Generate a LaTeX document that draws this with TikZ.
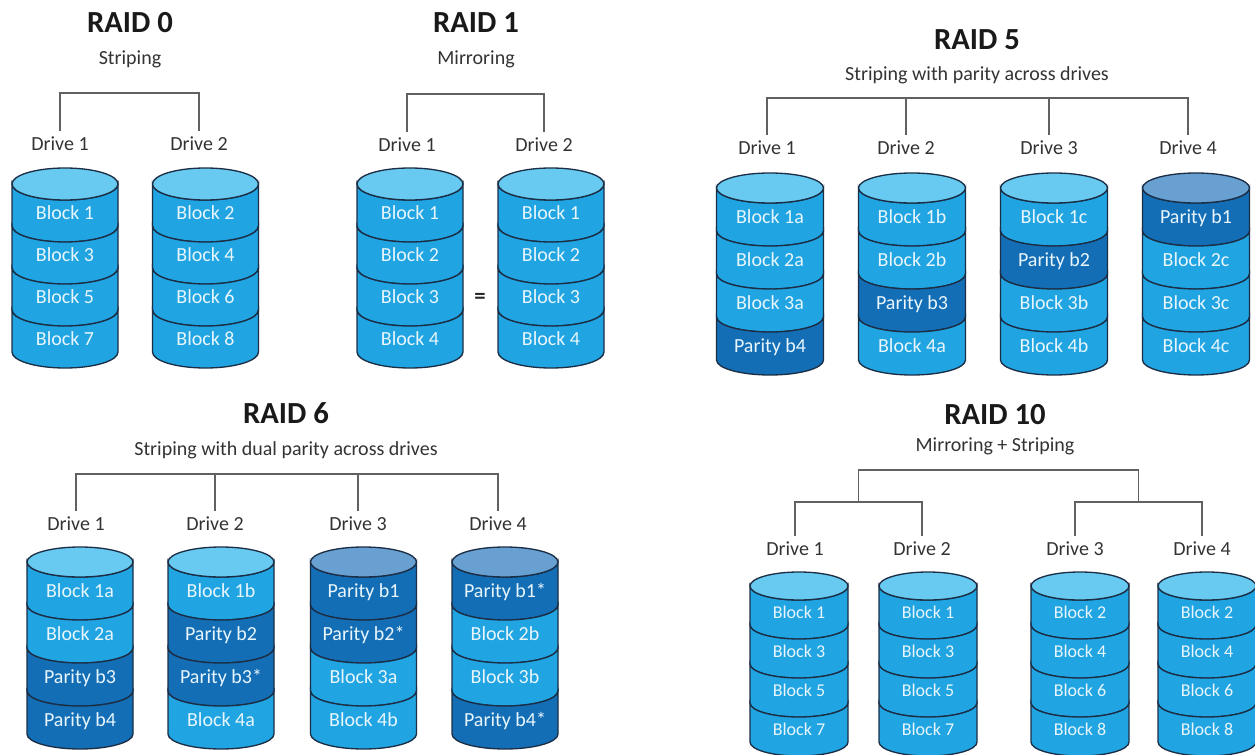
\documentclass[tikz,border=0pt]{standalone}
\usepackage{fontspec}
\setmainfont{Carlito}
\usetikzlibrary{calc}

\definecolor{blockblue}{RGB}{32,164,226}
\definecolor{blocklight}{RGB}{104,202,240}
\definecolor{paritydark}{RGB}{20,110,182}
\definecolor{paritylight}{RGB}{104,160,210}
\definecolor{rim}{RGB}{27,46,69}
\definecolor{celltxt}{RGB}{232,246,252}

% one drive: name, top style, centre x, top y, x radius, band height, bands
\newcommand{\raiddrive}[7]{%
  \foreach \sty/\txt [count=\i from 0] in {#7} {
    \pgfmathsetmacro{\ya}{#4+\i*#6}
    \pgfmathsetmacro{\yb}{\ya+#6}
    \filldraw[\sty] (#3-#5,\ya) -- (#3-#5,\yb)
      arc[start angle=180,end angle=0,x radius=#5,y radius=\ry]
      -- (#3+#5,\ya)
      arc[start angle=0,end angle=180,x radius=#5,y radius=\ry] -- cycle;
    \node[cell] (#1-\i) at (#3,\ya+#6/2+\ry/2+1.5) {\txt};
  }
  \filldraw[#2] (#3,#4) ellipse[x radius=#5,y radius=\ry];
}

\begin{document}
\begin{tikzpicture}[
    x=0.75pt, y=-0.75pt,
    title/.style={font=\fontsize{23}{26}\selectfont\bfseries, text=black!90, text height=0.72em, text depth=0pt},
    subtitle/.style={font=\fontsize{15}{18}\selectfont, text=black!80, text height=0.72em, text depth=0pt},
    drivelabel/.style={font=\fontsize{15}{18}\selectfont, text=black!80, text height=0.72em, text depth=0pt, inner ysep=7.3pt},
    cell/.style={font=\fontsize{15}{18}\selectfont, text=celltxt, text height=0.72em, text depth=0pt},
    bracket/.style={draw=black!62, line width=1pt},
    blockband/.style={fill=blockblue, draw=rim, line width=1pt},
    parityband/.style={fill=paritydark, draw=rim, line width=1pt},
    blocktop/.style={fill=blocklight, draw=rim, line width=1pt},
    paritytop/.style={fill=paritylight, draw=rim, line width=1pt},
]
\useasboundingbox (0,0) rectangle (1255,755);

% RAID 0
\node[title] (r0title) at (130,28) {RAID 0};
\node[subtitle] (r0sub) at (130,59.5) {Striping};
\node[drivelabel] (r0d1) at (60,145.5) {Drive 1};
\node[drivelabel] (r0d2) at (199,145.5) {Drive 2};
\coordinate (r0bar) at (130,93);
\draw[bracket] (r0d1.north) |- (r0bar) -| (r0d2.north);
\def\ry{16}
\raiddrive{r0c1}{blocktop}{65}{184}{53}{42}{blockband/Block 1,blockband/Block 3,blockband/Block 5,blockband/Block 7}
\raiddrive{r0c2}{blocktop}{205.5}{184}{53}{42}{blockband/Block 2,blockband/Block 4,blockband/Block 6,blockband/Block 8}

% RAID 1
\node[title] (r1title) at (476,28) {RAID 1};
\node[subtitle] (r1sub) at (476,59.5) {Mirroring};
\node[drivelabel] (r1d1) at (407,146.5) {Drive 1};
\node[drivelabel] (r1d2) at (544,146.5) {Drive 2};
\coordinate (r1bar) at (476,94);
\draw[bracket] (r1d1.north) |- (r1bar) -| (r1d2.north);
\raiddrive{r1c1}{blocktop}{410}{184}{53}{42}{blockband/Block 1,blockband/Block 2,blockband/Block 3,blockband/Block 4}
\raiddrive{r1c2}{blocktop}{551}{184}{53}{42}{blockband/Block 1,blockband/Block 2,blockband/Block 3,blockband/Block 4}
\node[font=\fontsize{17}{20}\selectfont\bfseries, text=black!85] (eqsign) at (480,298) {=};

% RAID 5
\node[title] (r5title) at (977,45) {RAID 5};
\node[subtitle] (r5sub) at (977,75.5) {Striping with parity across drives};
\node[drivelabel] (r5d1) at (767,149.5) {Drive 1};
\node[drivelabel] (r5d2) at (906,149.5) {Drive 2};
\node[drivelabel] (r5d3) at (1049,149.5) {Drive 3};
\node[drivelabel] (r5d4) at (1188,149.5) {Drive 4};
\coordinate (r5bar) at (977,98);
\draw[bracket] (r5d1.north) |- (r5bar) -| (r5d4.north);
\draw[bracket] (r5d2.north) -- (r5d2.north |- r5bar);
\draw[bracket] (r5d3.north) -- (r5d3.north |- r5bar);
\def\ry{15}
\raiddrive{r5c1}{blocktop}{770}{188}{53.5}{43}{blockband/Block 1a,blockband/Block 2a,blockband/Block 3a,parityband/Parity b4}
\raiddrive{r5c2}{blocktop}{912}{188}{53.5}{43}{blockband/Block 1b,blockband/Block 2b,parityband/Parity b3,blockband/Block 4a}
\raiddrive{r5c3}{blocktop}{1054}{188}{53.5}{43}{blockband/Block 1c,parityband/Parity b2,blockband/Block 3b,blockband/Block 4b}
\raiddrive{r5c4}{paritytop}{1196}{188}{53.5}{43}{parityband/Parity b1,blockband/Block 2c,blockband/Block 3c,blockband/Block 4c}

% RAID 6
\node[title] (r6title) at (286,419) {RAID 6};
\node[subtitle] (r6sub) at (286,450.5) {Striping with dual parity across drives};
\node[drivelabel] (r6d1) at (76,525.5) {Drive 1};
\node[drivelabel] (r6d2) at (215,525.5) {Drive 2};
\node[drivelabel] (r6d3) at (358,525.5) {Drive 3};
\node[drivelabel] (r6d4) at (498,525.5) {Drive 4};
\coordinate (r6bar) at (287,474);
\draw[bracket] (r6d1.north) |- (r6bar) -| (r6d4.north);
\draw[bracket] (r6d2.north) -- (r6d2.north |- r6bar);
\draw[bracket] (r6d3.north) -- (r6d3.north |- r6bar);
\raiddrive{r6c1}{blocktop}{80}{562}{53}{43}{blockband/Block 1a,blockband/Block 2a,parityband/Parity b3,parityband/Parity b4}
\raiddrive{r6c2}{blocktop}{221}{562}{53}{43}{blockband/Block 1b,parityband/Parity b2,parityband/Parity b3*,blockband/Block 4a}
\raiddrive{r6c3}{paritytop}{363.5}{562}{53}{43}{parityband/Parity b1,parityband/Parity b2*,blockband/Block 3a,blockband/Block 4b}
\raiddrive{r6c4}{paritytop}{505}{562}{53}{43}{parityband/Parity b1*,blockband/Block 2b,blockband/Block 3b,parityband/Parity b4*}

% RAID 10
\node[title] (r10title) at (995,420) {RAID 10};
\node[subtitle] (r10sub) at (995,446.5) {Mirroring + Striping};
\node[drivelabel] (r10d1) at (795,550.5) {Drive 1};
\node[drivelabel] (r10d2) at (922,550.5) {Drive 2};
\node[drivelabel] (r10d3) at (1075,550.5) {Drive 3};
\node[drivelabel] (r10d4) at (1202,550.5) {Drive 4};
\coordinate (r10left) at (858.5,502);
\coordinate (r10right) at (1138.5,502);
\coordinate (r10bar) at (998,470);
\draw[bracket] (r10d1.north) |- (r10left) -| (r10d2.north);
\draw[bracket] (r10d3.north) |- (r10right) -| (r10d4.north);
\draw[bracket] (r10left) |- (r10bar) -| (r10right);
\begin{scope}[cell/.append style={font=\fontsize{13.5}{16}\selectfont}]
\def\ry{14}
\raiddrive{r10c1}{blocktop}{799}{586}{49}{39}{blockband/Block 1,blockband/Block 3,blockband/Block 5,blockband/Block 7}
\raiddrive{r10c2}{blocktop}{928}{586}{49}{39}{blockband/Block 1,blockband/Block 3,blockband/Block 5,blockband/Block 7}
\raiddrive{r10c3}{blocktop}{1080}{586}{49}{39}{blockband/Block 2,blockband/Block 4,blockband/Block 6,blockband/Block 8}
\raiddrive{r10c4}{blocktop}{1207}{586}{49}{39}{blockband/Block 2,blockband/Block 4,blockband/Block 6,blockband/Block 8}
\end{scope}
\end{tikzpicture}
\end{document}
